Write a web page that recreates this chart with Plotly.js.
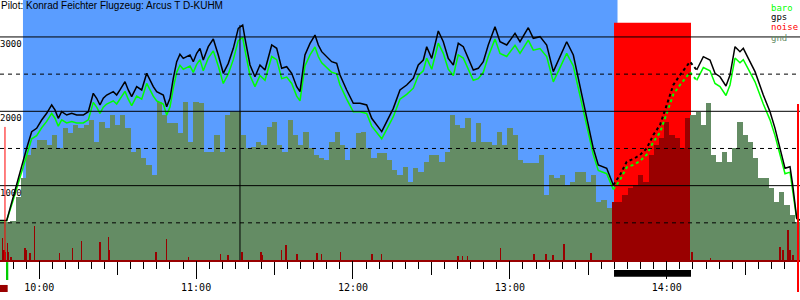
<!DOCTYPE html>
<html><head><meta charset="utf-8">
<script src="https://cdn.plot.ly/plotly-3.0.1.min.js"></script>
<style>html,body{margin:0;padding:0;background:#fff}#chart{width:800px;height:300px}</style>
</head><body><div id="chart"></div>
<script>
const DAY = '2024-06-15 ';
const titleText = 'Pilot: Konrad Feichter Flugzeug: Arcus T D-KUHM';
const legendNames = ['baro', 'gps', 'noise', 'gnd'];
const yLabelVals = [1000, 2000, 3000];
const yLabelText = ['1000', '2000', '3000'];
const solidLevels = [1000, 2000, 3000];
const dashedLevels = [500, 1500, 2500];

const trackTimes = [
'09:45:01','09:47:34','09:50:06','09:52:40','09:55:13','09:57:08','09:59:02','10:00:57','10:02:52','10:04:47',
'10:06:02','10:07:18','10:08:36','10:10:31','10:12:26','10:14:20','10:16:52','10:18:47','10:20:41','10:21:59',
'10:23:15','10:24:31','10:25:49','10:28:20','10:29:38','10:30:54','10:32:49','10:34:04','10:35:22','10:37:17',
'10:39:12','10:41:07','10:42:22','10:43:38','10:44:56','10:46:12','10:47:28','10:48:45','10:50:01','10:51:17',
'10:52:35','10:53:50','10:55:06','10:56:24','10:57:40','10:58:56','11:00:14','11:01:29','11:02:45','11:04:40',
'11:06:35','11:08:29','11:10:24','11:12:19','11:14:14','11:16:08','11:17:49','11:18:42','11:20:37','11:22:31',
'11:24:26','11:26:21','11:28:55','11:30:49','11:32:44','11:34:39','11:36:34','11:38:28','11:39:44','11:41:38',
'11:43:34','11:45:28','11:46:44','11:48:02','11:49:56','11:51:51','11:53:46','11:55:02','11:57:35','12:00:07',
'12:02:41','12:05:14','12:07:09','12:09:04','12:10:59','12:12:53','12:15:25','12:17:58','12:20:32','12:23:04',
'12:24:58','12:26:53','12:28:11','12:30:06','12:32:37','12:34:32','12:36:26','12:38:22','12:40:16','12:42:11',
'12:44:05','12:46:00','12:47:55','12:49:50','12:51:44','12:54:18','12:56:13','12:58:47','13:01:57','13:03:52',
'13:07:02','13:08:57','13:11:31','13:14:04','13:16:36','13:18:31','13:21:43','13:24:15','13:26:10','13:28:04',
'13:29:59','13:31:53','13:33:48','13:37:01','13:39:32','13:42:06','13:44:40','13:47:11','13:49:45','13:52:19',
'13:54:50','13:57:24','13:59:58','14:02:29','14:05:03','14:08:52','14:11:26','14:13:58','14:16:31','14:18:26',
'14:20:20','14:22:38','14:24:10','14:26:05','14:27:59','14:29:15','14:31:10','14:33:44','14:36:54','14:39:28',
'14:41:23','14:43:17','14:45:12','14:47:07','14:48:09','14:49:40','14:50:56'];

const gpsAlt = [
530,530,851,1188,1502,1726,1771,1883,1973,2085,
2018,1906,1995,1950,1972,1950,1950,1995,2242,2175,
2085,2175,2219,2264,2219,2287,2398,2287,2197,2331,
2287,2511,2421,2331,2264,2242,2219,2062,2175,2443,
2667,2767,2712,2735,2757,2667,2780,2847,2690,2869,
2972,2757,2511,2645,2847,3116,3161,2982,2623,2465,
2623,2555,2892,2847,2578,2600,2511,2331,2264,2757,
2914,3026,2892,2802,2735,2667,2645,2488,2287,2108,
2108,2085,1906,1816,1726,1861,2040,2287,2354,2443,
2623,2690,2869,2712,3080,2936,2712,2623,2914,2869,
2712,2555,2578,2667,2892,3138,2936,2892,3049,2936,
3124,2982,3004,2892,2533,2690,2936,2757,2443,2085,
1816,1502,1278,1233,1009,1143,1322,1358,1412,1502,
1681,1816,2085,2354,2488,2667,2555,2735,2690,2511,
2465,2340,2488,2869,2802,2847,2712,2533,2219,1995,
1771,1502,1233,1255,1009,561,538];

const baroAlt = [
528,528,810,1118,1417,1630,1673,1779,1864,1971,
1907,1801,1885,1843,1863,1843,1843,1885,2120,2056,
1971,2056,2098,2141,2098,2163,2268,2163,2077,2204,
2163,2375,2290,2204,2141,2120,2098,1949,2056,2311,
2524,2619,2566,2588,2609,2524,2631,2695,2545,2716,
2813,2609,2375,2503,2695,2950,2993,2823,2482,2332,
2482,2417,2737,2695,2439,2460,2375,2204,2141,2609,
2758,2865,2737,2652,2588,2524,2503,2354,2163,1993,
1993,1971,1801,1715,1630,1758,1928,2163,2227,2311,
2482,2545,2716,2566,2916,2779,2566,2482,2758,2716,
2566,2417,2439,2524,2737,2971,2779,2737,2887,2779,
2958,2823,2844,2737,2396,2545,2779,2609,2311,1971,
1715,1417,1204,1161,949,1076,1246,1280,1331,1417,
1587,1715,1971,2227,2354,2524,2417,2588,2545,2375,
2332,2213,2354,2716,2652,2695,2566,2396,2098,1885,
1673,1417,1161,1182,949,555,535];

// terrain elevation, one sample every 2 minutes starting 09:46
const gndStart = '09:46';
const gndStepMin = 2;
const gndAlt = [
515,515,530,851,1098,1412,1502,1614,1614,1547,
1681,1502,1771,1704,1816,1771,1816,1883,1592,1861,
1771,1950,1816,1950,1771,1457,1502,1368,1278,1143,
2130,1950,1838,1838,1704,2130,1592,2130,2108,1457,
1457,1681,1457,1950,1995,1995,1681,1502,1525,1592,
1547,1794,1861,1547,1457,1883,1681,1547,1726,1502,
1412,1368,1345,1592,1726,1547,1345,1502,1704,1726,
1502,1368,1435,1435,1345,1210,1143,1255,1053,1233,
1188,1322,1412,1412,1322,1457,1950,1816,1771,1906,
1592,1838,1592,1592,1547,1726,1547,1771,1681,1345,
1300,1300,1300,1412,874,1143,1098,1143,1009,1053,
1188,1188,1053,1143,784,807,695,784,784,874,
964,1009,1143,1053,1412,1547,1637,1861,1681,1637,
1502,1906,1950,1995,1816,2108,1412,1322,1457,1322,
1502,1861,1681,1592,1368,1098,1098,964,784,919,
740,605,515];

const noiseTimes = [
'09:46:02','09:46:32','09:47:11','09:47:48','09:48:11','09:49:13','09:54:34','09:55:13','09:56:29','09:58:08',
'10:07:41','10:12:49','10:16:15','10:23:15','10:26:25','10:26:49','10:44:40','10:48:45','10:57:01','11:09:25',
'11:12:12','11:17:33','11:24:49','11:25:28','11:32:44','11:34:23','11:38:35','11:46:14','11:48:02','11:55:18',
'12:07:16','12:10:59','12:40:09','12:41:48','12:43:52','12:56:29','13:09:13','13:13:48','13:16:29','13:20:41',
'13:31:01','14:09:38','14:16:47','14:43:17','14:44:26','14:46:21','14:47:07','14:48:16'];
const noiseVals = [
296,135,108,229,108,40,161,135,94,457,
94,161,255,242,309,135,108,282,40,81,
67,108,108,67,135,202,81,94,81,108,
81,81,54,54,54,161,81,81,67,215,
94,108,27,175,135,403,135,67];

const xStart = '09:45:01', xEnd = '14:50:56';
const flightStart = '09:53:48', flightEnd = '13:41:09';
const engineStart = '13:39:49', engineEnd = '14:09:15', engineTop = 3190;
const takeoffLine = '09:46:55', takeoffLineTop = 1790;
const takeoffMark = ['09:47:18', '09:48:11'];
const landingLine = '14:50:10';
const cursorTime = '11:16:47', cursorTop = 3160;

const C = {blue: '#5a9dff', red: '#ff0000', dark: '#990000', gnd: '#648c64', baro: '#00ff00', gps: '#000000'};
const MONO = 'DejaVu Sans Mono, monospace';

const d = t => DAY + t;
function pad(n) { return (n < 10 ? '0' : '') + n; }

const g0 = gndStart.split(':').map(Number);
const gndTimes = gndAlt.map((_, k) => {
  const m = g0[0] * 60 + g0[1] + k * gndStepMin;
  return pad(Math.floor(m / 60)) + ':' + pad(m % 60) + ':00';
});
const gndColors = gndTimes.map(t => (t >= engineStart && t <= engineEnd) ? C.dark : C.gnd);

function split(times, vals) {
  const pre = {x: [], y: []}, eng = {x: [], y: []}, post = {x: [], y: []};
  let lastPre = -1, firstPost = -1;
  times.forEach((t, i) => {
    if (t < engineStart) { pre.x.push(d(t)); pre.y.push(vals[i]); lastPre = i; }
    else if (t > engineEnd) { if (firstPost < 0) firstPost = i; post.x.push(d(t)); post.y.push(vals[i]); }
  });
  for (let i = lastPre; i <= firstPost; i++) { eng.x.push(d(times[i])); eng.y.push(vals[i]); }
  return [pre, eng, post];
}

const traces = [];
traces.push({type: 'bar', x: gndTimes.map(d), y: gndAlt, width: gndStepMin * 60000,
  marker: {color: gndColors, line: {width: 0}}, hoverinfo: 'skip', showlegend: false});
traces.push({type: 'bar', x: noiseTimes.map(d), y: noiseVals, width: 25000,
  marker: {color: C.dark, line: {width: 0}}, hoverinfo: 'skip', showlegend: false});
[[baroAlt, C.baro], [gpsAlt, C.gps]].forEach(([vals, col]) => {
  const [pre, eng, post] = split(trackTimes, vals);
  traces.push({type: 'scatter', mode: 'lines', x: pre.x, y: pre.y, line: {color: col, width: 1.5}, showlegend: false, hoverinfo: 'skip'});
  traces.push({type: 'scatter', mode: 'lines', x: eng.x, y: eng.y, line: {color: col, width: 2, dash: 'dot'}, showlegend: false, hoverinfo: 'skip'});
  traces.push({type: 'scatter', mode: 'lines', x: post.x, y: post.y, line: {color: col, width: 1.5}, showlegend: false, hoverinfo: 'skip'});
});

const shapes = [];
shapes.push({type: 'rect', layer: 'below', xref: 'x', yref: 'paper', x0: d(flightStart), x1: d(flightEnd), y0: 0, y1: 1, fillcolor: C.blue, line: {width: 0}});
shapes.push({type: 'rect', layer: 'below', xref: 'x', yref: 'y', x0: d(engineStart), x1: d(engineEnd), y0: 0, y1: engineTop, fillcolor: C.red, line: {width: 0}});
solidLevels.forEach(v => shapes.push({type: 'line', layer: 'above', xref: 'paper', yref: 'y', x0: 0, x1: 1, y0: v, y1: v, line: {color: '#000', width: 1}}));
dashedLevels.forEach(v => shapes.push({type: 'line', layer: 'above', xref: 'paper', yref: 'y', x0: 0, x1: 1, y0: v, y1: v, line: {color: '#000', width: 1, dash: '4px,4px'}}));
shapes.push({type: 'line', layer: 'above', xref: 'x', yref: 'y', x0: d(cursorTime), x1: d(cursorTime), y0: 0, y1: cursorTop, line: {color: '#000', width: 1}});
shapes.push({type: 'line', layer: 'above', xref: 'x', yref: 'y', x0: d(takeoffLine), x1: d(takeoffLine), y0: 0, y1: takeoffLineTop, line: {color: C.red, width: 1}});
shapes.push({type: 'line', layer: 'above', xref: 'x', yref: 'paper', x0: d(landingLine), x1: d(landingLine), y0: -0.123, y1: 0.6, line: {color: C.red, width: 2}});
shapes.push({type: 'rect', layer: 'above', xref: 'x', yref: 'paper', x0: d(takeoffMark[0]), x1: d(takeoffMark[1]), y0: -0.077, y1: -0.008, fillcolor: '#00cc00', line: {width: 0}});
shapes.push({type: 'rect', layer: 'above', xref: 'paper', yref: 'paper', x0: 0, x1: 0.0096, y0: -0.123, y1: -0.096, fillcolor: C.dark, line: {width: 0}});
shapes.push({type: 'rect', layer: 'above', xref: 'x', yref: 'paper', x0: d(engineStart), x1: d(engineEnd), y0: -0.064, y1: -0.0385, fillcolor: '#000', line: {width: 0}});

const annotations = [];
annotations.push({text: titleText, xref: 'paper', yref: 'paper', x: 0, y: 1, xanchor: 'left', yanchor: 'top', showarrow: false, borderpad: 0, yshift: 1,
  font: {family: 'Liberation Sans, Arial, sans-serif', size: 10, color: '#000'}});
yLabelVals.forEach((v, i) => annotations.push({text: yLabelText[i], xref: 'paper', yref: 'y', x: 0, y: v, xanchor: 'left', yanchor: 'top', showarrow: false, borderpad: 0, xshift: -1, yshift: -1,
  font: {family: MONO, size: 9, color: '#000'}}));
const legColors = [C.baro, C.gps, C.red, C.gnd];
legendNames.forEach((n, i) => annotations.push({text: n, xref: 'paper', yref: 'paper', x: 770 / 800, y: (260 - (7.5 + 10 * i)) / 260, xanchor: 'left', yanchor: 'middle', showarrow: false, borderpad: 0, height: 10,
  font: {family: MONO, size: 9, color: legColors[i]}}));

const layout = {
  width: 800, height: 300, margin: {l: 0, r: 0, t: 0, b: 40},
  paper_bgcolor: '#fff', plot_bgcolor: '#fff', barmode: 'overlay', bargap: 0, showlegend: false,
  xaxis: {type: 'date', range: [d(xStart), d(xEnd)], showgrid: false, zeroline: false,
    ticks: 'outside', ticklen: 13, tickwidth: 1, tickcolor: '#000', tick0: d('10:00:00'), dtick: 1800000,
    showticklabels: false, showline: true, linecolor: C.dark, linewidth: 2,
    minor: {ticks: 'outside', ticklen: 7, tickwidth: 1, tickcolor: '#000', dtick: 300000, tick0: d('10:00:00'), showgrid: false}},
  xaxis2: {type: 'date', overlaying: 'x', side: 'bottom', anchor: 'y', range: [d(xStart), d(xEnd)], showgrid: false, zeroline: false,
    ticks: 'outside', ticklen: 18, tickwidth: 1, tickcolor: '#000', tick0: d('10:00:00'), dtick: 3600000, tickformat: '%H:%M',
    tickfont: {family: MONO, size: 10, color: '#000'}, showline: false},
  yaxis: {range: [0, 3497], showgrid: false, zeroline: false, showticklabels: false, ticks: ''},
  shapes, annotations
};
traces.push({type: 'scatter', mode: 'markers', x: [d(xStart)], y: [0], xaxis: 'x2', marker: {opacity: 0}, hoverinfo: 'skip', showlegend: false});

Plotly.newPlot('chart', traces, layout, {staticPlot: true, displayModeBar: false});
</script></body></html>
